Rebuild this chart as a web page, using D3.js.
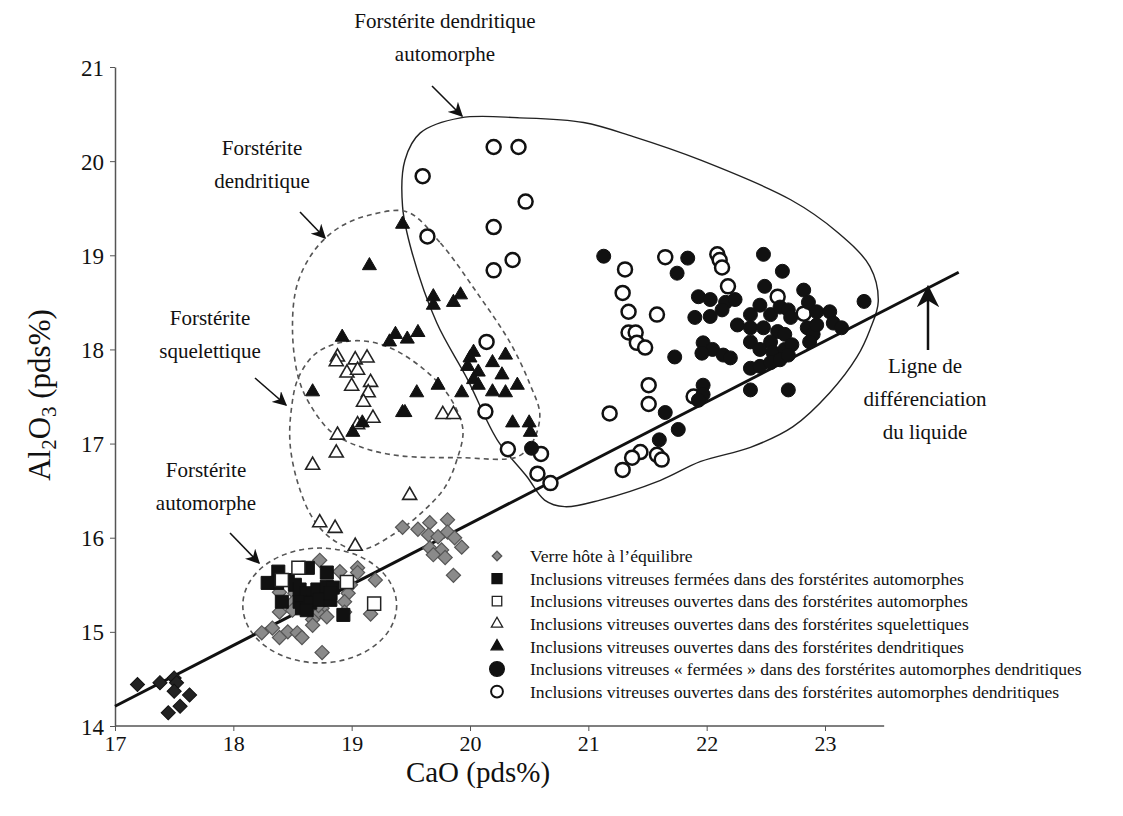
<!DOCTYPE html>
<meta charset="utf-8">
<style>
body { margin: 0; background: #fff; }
text { font-family: "Liberation Serif", "DejaVu Serif", serif; fill: #111; }
.note { font-size: 21px; }
.legend text { font-size: 17.6px; }
</style>
<svg width="1123" height="816"></svg>
<script src="https://d3js.org/d3.v7.min.js"></script>
<script>

// CaO, Al2O3 (pds%)
var verre = [
  [18.73,15.76],[19.05,15.68],[19.05,15.63],[18.90,15.64],[19.20,15.55],[18.39,15.42],[18.52,15.41],
  [18.99,15.50],[18.97,15.41],[18.94,15.32],[18.75,15.25],[18.50,15.31],[18.50,15.23],[18.39,15.21],
  [18.72,15.20],[18.67,15.13],[18.79,15.16],[18.67,15.07],[19.16,15.19],[18.94,15.21],[18.33,15.04],
  [18.24,14.99],[18.46,15.00],[18.39,14.94],[18.54,14.99],[18.58,14.94],[18.75,14.78],[18.72,15.28],
  [19.43,16.11],[19.56,16.09],[19.66,16.16],[19.81,16.19],[19.65,16.03],[19.73,16.01],[19.81,16.06],
  [19.87,16.00],[19.93,15.90],[19.66,15.89],[19.76,15.87],[19.69,15.82],[19.79,15.79],[19.86,15.60]
];
var verreBas = [
  [17.19,14.44],[17.38,14.46],[17.50,14.51],[17.52,14.46],[17.50,14.37],[17.63,14.33],[17.55,14.21],[17.45,14.14]
];
var fermeesAuto = [
  [18.38,15.64],[18.37,15.52],[18.29,15.52],[18.46,15.55],[18.52,15.50],[18.63,15.68],[18.79,15.63],
  [18.56,15.45],[18.62,15.41],[18.71,15.45],[18.79,15.48],[18.84,15.47],[18.41,15.32],[18.56,15.32],
  [18.58,15.25],[18.65,15.31],[18.62,15.23],[18.73,15.34],[18.82,15.34],[18.82,15.41],[18.93,15.18]
];
var ouvertesAuto = [[18.55,15.68],[18.41,15.55],[18.96,15.53],[19.19,15.30]];
var squelettiques = [
  [18.88,17.92],[18.87,17.87],[19.03,17.89],[19.13,17.91],[18.96,17.75],[19.05,17.78],[19.16,17.65],
  [19.00,17.61],[19.14,17.54],[19.10,17.44],[19.18,17.27],[19.05,17.20],[18.88,17.09],[18.87,16.90],
  [18.67,16.77],[19.77,17.31],[19.86,17.31],[19.49,16.45],[18.73,16.16],[18.86,16.10],[19.03,15.91]
];
var dendritiques = [
  [19.43,19.33],[19.15,18.89],[19.69,18.56],[19.69,18.47],[19.92,18.58],[19.86,18.50],[19.56,18.18],
  [19.47,18.11],[19.37,18.16],[19.32,18.08],[18.92,18.13],[18.67,17.55],[19.73,17.62],[19.55,17.54],
  [19.43,17.33],[19.45,17.33],[19.93,17.54],[19.09,17.22],[19.01,17.12],[20.03,17.97],[20.00,17.91],
  [19.98,17.82],[20.07,17.76],[20.03,17.68],[20.07,17.62],[20.19,17.86],[20.30,17.94],[20.27,17.73],
  [20.19,17.55],[20.30,17.54],[20.40,17.62],[20.36,17.22],[20.50,17.22],[20.51,17.12]
];
var fermeesAD = [
  [20.52,16.95],[21.13,18.99],[21.84,18.97],[21.75,18.81],[22.48,19.01],[22.64,18.83],[22.49,18.67],
  [22.82,18.63],[23.33,18.51],[21.93,18.56],[22.03,18.53],[22.16,18.50],[22.24,18.53],[21.90,18.34],
  [22.03,18.35],[22.13,18.42],[22.37,18.37],[22.45,18.47],[22.54,18.37],[22.62,18.45],[22.69,18.42],
  [22.71,18.34],[22.86,18.50],[22.93,18.40],[23.04,18.40],[22.26,18.26],[22.37,18.23],[22.48,18.23],
  [22.60,18.19],[22.66,18.16],[22.54,18.08],[22.37,18.08],[22.85,18.23],[22.90,18.16],[22.87,18.08],
  [23.07,18.28],[23.14,18.23],[21.97,18.07],[22.05,18.00],[21.96,17.96],[22.14,17.94],[22.20,17.91],
  [21.73,17.92],[22.45,18.00],[22.56,17.97],[22.66,18.00],[22.72,18.05],[22.37,17.80],[22.45,17.82],
  [22.54,17.86],[22.62,17.89],[22.69,17.94],[22.37,17.57],[22.69,17.57],[21.97,17.62],[21.97,17.52],
  [21.93,17.46],[22.93,18.26],[21.65,17.33],[21.76,17.15],[21.60,17.04]
];
var ouvertesAD = [
  [20.20,20.15],[20.41,20.15],[19.60,19.84],[20.47,19.57],[20.20,19.30],[19.64,19.20],[20.36,18.95],
  [20.20,18.84],[21.31,18.85],[21.65,18.98],[21.29,18.60],[21.34,18.40],[21.58,18.37],[21.34,18.18],
  [21.40,18.18],[21.41,18.07],[21.48,18.02],[20.14,18.08],[21.51,17.62],[21.51,17.42],[21.18,17.32],
  [21.89,17.50],[21.44,16.91],[21.37,16.85],[21.58,16.88],[21.62,16.83],[21.29,16.72],[20.13,17.34],
  [20.32,16.94],[20.60,16.89],[20.57,16.68],[20.68,16.58],[22.09,19.01],[22.11,18.95],[22.13,18.87],
  [22.18,18.67],[22.60,18.56],[22.82,18.38]
];

// ligne de différenciation du liquide
var ligne = [[17, 14.21], [24.13, 18.82]];

// contours (CaO, Al2O3)
var zoneAutoDend = [
  [19.43,19.52],[19.45,20.01],[19.58,20.30],[19.92,20.46],[20.42,20.46],[20.96,20.41],[21.38,20.26],
  [21.95,20.01],[22.71,19.59],[23.10,19.25],[23.38,18.88],[23.45,18.51],[23.38,18.21],[23.27,17.92],
  [23.04,17.54],[22.73,17.18],[22.37,16.96],[21.95,16.81],[21.61,16.61],[21.10,16.40],[20.80,16.33],
  [20.63,16.40],[20.48,16.65],[20.23,17.04],[19.98,17.68],[19.72,18.28],[19.51,19.03]
];
var zoneDend = [
  [19.47,19.46],[19.75,19.13],[20.06,18.60],[20.34,18.07],[20.51,17.62],[20.59,17.31],[20.53,17.02],
  [20.40,16.86],[19.92,16.85],[19.41,16.87],[19.11,16.95],[18.84,17.11],[18.65,17.41],[18.55,17.70],
  [18.50,18.21],[18.54,18.69],[18.69,19.06],[18.90,19.30],[19.16,19.43]
];
var zoneSquel = [
  [19.94,17.15],[19.89,16.83],[19.79,16.54],[19.62,16.30],[19.37,16.05],[19.07,15.87],[18.84,15.98],
  [18.67,16.21],[18.55,16.56],[18.48,16.99],[18.49,17.36],[18.55,17.70],[18.71,17.97],[18.99,18.09],
  [19.28,18.04],[19.60,17.80],[19.83,17.49]
];
var zoneAuto = { c: [18.73, 15.28], rx: 0.65, ry: 0.61 };

var xTicks = [17, 18, 19, 20, 21, 22, 23];
var yTicks = [14, 15, 16, 17, 18, 19, 20, 21];

var legendLabels = [
  "Verre hôte à l’équilibre",
  "Inclusions vitreuses fermées dans des forstérites automorphes",
  "Inclusions vitreuses ouvertes dans des forstérites automorphes",
  "Inclusions vitreuses ouvertes dans des forstérites squelettiques",
  "Inclusions vitreuses ouvertes dans des forstérites dendritiques",
  "Inclusions vitreuses « fermées » dans des forstérites automorphes dendritiques",
  "Inclusions vitreuses ouvertes dans des forstérites automorphes dendritiques"
];

var svg = d3.select("svg");

var x = d3.scaleLinear().domain([17, 23]).range([115, 825]),
    y = d3.scaleLinear().domain([14, 21]).range([726, 67]);

// axes
var xAxis = svg.append("g").attr("transform", "translate(0,726)")
    .call(d3.axisBottom(x).tickValues(xTicks).tickFormat(d3.format("d"))
      .tickSize(5).tickSizeOuter(0).tickPadding(4));
xAxis.select(".domain").attr("d", "M" + x(17) + ",0H" + x(23.5));
var yAxis = svg.append("g").attr("transform", "translate(115,0)")
    .call(d3.axisLeft(y).tickValues(yTicks).tickFormat(d3.format("d"))
      .tickSize(5).tickSizeOuter(0).tickPadding(6));
svg.selectAll(".domain").attr("stroke", "#555").attr("stroke-width", 1.5);
svg.selectAll(".tick line").attr("stroke", "#555");
xAxis.selectAll(".tick text").style("font-size", "22px").attr("font-family", null).attr("dy", "0.71em");
yAxis.selectAll(".tick text").style("font-size", "23px").attr("font-family", null).attr("dy", "0.35em");

svg.append("text").attr("x", 478).attr("y", 782).attr("text-anchor", "middle")
  .style("font-size", "29px").text("CaO (pds%)");
var yl = svg.append("text").attr("transform", "translate(50,395) rotate(-90)")
  .attr("text-anchor", "middle").style("font-size", "31px");
yl.append("tspan").text("Al");
yl.append("tspan").attr("dy", 6).style("font-size", "21px").text("2");
yl.append("tspan").attr("dy", -6).text("O");
yl.append("tspan").attr("dy", 6).style("font-size", "21px").text("3");
yl.append("tspan").attr("dy", -6).text(" (pds%)");

// contours
var contour = d3.line()
  .x(function(d) { return x(d[0]); })
  .y(function(d) { return y(d[1]); })
  .curve(d3.curveCatmullRomClosed);
svg.append("path").attr("d", contour(zoneAutoDend))
  .attr("fill", "none").attr("stroke", "#222").attr("stroke-width", 1.4);
svg.append("path").attr("d", contour(zoneDend))
  .attr("fill", "none").attr("stroke", "#555").attr("stroke-width", 1.6).attr("stroke-dasharray", "5,4");
svg.append("path").attr("d", contour(zoneSquel))
  .attr("fill", "none").attr("stroke", "#555").attr("stroke-width", 1.6).attr("stroke-dasharray", "5,4");
svg.append("ellipse")
  .attr("cx", x(zoneAuto.c[0])).attr("cy", y(zoneAuto.c[1]))
  .attr("rx", x(zoneAuto.c[0] + zoneAuto.rx) - x(zoneAuto.c[0]))
  .attr("ry", y(zoneAuto.c[1]) - y(zoneAuto.c[1] + zoneAuto.ry))
  .attr("fill", "none").attr("stroke", "#555").attr("stroke-width", 1.6).attr("stroke-dasharray", "5,4");

// ligne
svg.append("line")
  .attr("x1", x(ligne[0][0])).attr("y1", y(ligne[0][1]))
  .attr("x2", x(ligne[1][0])).attr("y2", y(ligne[1][1]))
  .attr("stroke", "#111").attr("stroke-width", 3);

// symbols
var sym = {
  diamond: d3.symbol().type(d3.symbolSquare).size(100),
  square: d3.symbol().type(d3.symbolSquare).size(170),
  triangle: d3.symbol().type(d3.symbolTriangle).size(85)
};

function pts(data, path, rot, fill, stroke, sw) {
  svg.append("g").selectAll("path").data(data).enter().append("path")
    .attr("d", path)
    .attr("transform", function(d) { return "translate(" + x(d[0]) + "," + y(d[1]) + ") rotate(" + rot + ")"; })
    .attr("fill", fill).attr("stroke", stroke).attr("stroke-width", sw);
}
function circles(data, fill, sw) {
  svg.append("g").selectAll("circle").data(data).enter().append("circle")
    .attr("cx", function(d) { return x(d[0]); }).attr("cy", function(d) { return y(d[1]); })
    .attr("r", 7).attr("fill", fill).attr("stroke", "#111").attr("stroke-width", sw);
}

pts(verre, sym.diamond(), 45, "#8a8a8a", "#555", 1.2);
pts(verreBas, sym.diamond(), 45, "#222", "#111", 1);
pts(fermeesAuto, sym.square(), 0, "#111", "#111", 1);
pts(ouvertesAuto, sym.square(), 0, "#fff", "#222", 1.5);
pts(squelettiques, sym.triangle(), 0, "#fff", "#222", 1.6);
pts(dendritiques, sym.triangle(), 0, "#111", "#111", 1);
circles(ouvertesAD, "#fff", 2.5);
circles(fermeesAD, "#111", 1);

// annotations
function note(lines, cx, cy) {
  var t = svg.append("text").attr("class", "note").attr("text-anchor", "middle");
  lines.forEach(function(s, i) {
    t.append("tspan").attr("x", cx).attr("y", cy + i * 33).text(s);
  });
}
note(["Forstérite dendritique", "automorphe"], 445, 28);
note(["Forstérite", "dendritique"], 262, 155);
note(["Forstérite", "squelettique"], 210, 325);
note(["Forstérite", "automorphe"], 206, 477);
note(["Ligne de", "différenciation", "du liquide"], 925, 373);

svg.append("defs").append("marker").attr("id", "ah")
  .attr("viewBox", "0 0 10 10").attr("refX", 9).attr("refY", 5)
  .attr("markerWidth", 9).attr("markerHeight", 9).attr("orient", "auto-start-reverse")
  .append("path").attr("d", "M0,0L10,5L0,10L3,5Z").attr("fill", "#111");

var arrows = [
  [432, 86, 462, 116], [300, 212, 325, 238], [255, 378, 286, 405],
  [230, 533, 259, 563], [928, 350, 928, 287]
];
svg.append("g").selectAll("line").data(arrows).enter().append("line")
  .attr("x1", function(d) { return d[0]; }).attr("y1", function(d) { return d[1]; })
  .attr("x2", function(d) { return d[2]; }).attr("y2", function(d) { return d[3]; })
  .attr("stroke", "#111").attr("stroke-width", function(d, i) { return i === 4 ? 2.5 : 1.6; })
  .attr("marker-end", "url(#ah)");

// legend
var legendSym = [
  { p: d3.symbol().type(d3.symbolSquare).size(45)(), rot: 45, fill: "#8a8a8a", stroke: "#555" },
  { p: d3.symbol().type(d3.symbolSquare).size(100)(), rot: 0, fill: "#111", stroke: "#111" },
  { p: d3.symbol().type(d3.symbolSquare).size(90)(), rot: 0, fill: "#fff", stroke: "#222" },
  { p: d3.symbol().type(d3.symbolTriangle).size(55)(), rot: 0, fill: "#fff", stroke: "#222" },
  { p: d3.symbol().type(d3.symbolTriangle).size(60)(), rot: 0, fill: "#111", stroke: "#111" },
  { p: d3.symbol().type(d3.symbolCircle).size(170)(), rot: 0, fill: "#111", stroke: "#111" },
  { p: d3.symbol().type(d3.symbolCircle).size(110)(), rot: 0, fill: "#fff", stroke: "#111" }
];
var lg = svg.append("g").attr("class", "legend");
var row = lg.selectAll("g").data(legendLabels).enter().append("g")
  .attr("transform", function(d, i) { return "translate(0," + (556 + i * 22.6) + ")"; });
row.append("path")
  .attr("d", function(d, i) { return legendSym[i].p; })
  .attr("transform", function(d, i) { return "translate(497,0) rotate(" + legendSym[i].rot + ")"; })
  .attr("fill", function(d, i) { return legendSym[i].fill; })
  .attr("stroke", function(d, i) { return legendSym[i].stroke; })
  .attr("stroke-width", function(d, i) { return i === 6 ? 2 : 1.3; });
row.append("text").attr("x", 530).attr("dy", "0.35em").text(function(d) { return d; });

</script>
